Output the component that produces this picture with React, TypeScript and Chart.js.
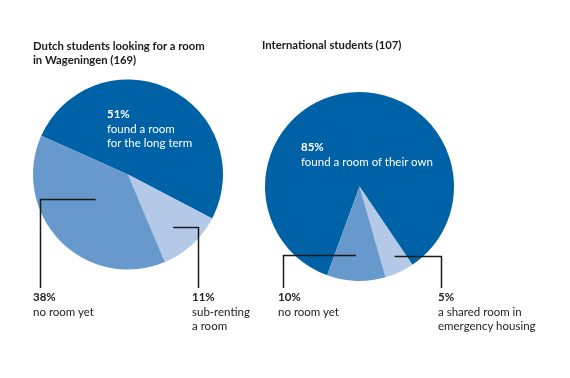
import React, { useEffect, useRef } from "react";
import { Chart, registerables } from "chart.js";

Chart.register(...registerables);

// ---- data ----
const dutchTitle = ["Dutch students looking for a room", "in Wageningen (169)"];
const dutchCategories = ["found a room for the long term", "sub-renting a room", "no room yet"];
const dutchValues = [51, 11, 38];

const intlTitle = ["International students (107)"];
const intlCategories = ["found a room of their own", "a shared room in emergency housing", "no room yet"];
const intlValues = [85, 5, 10];

const sliceColors = ["#0062a6", "#b3c9e7", "#6799cc"];

const FONT = "Lato, 'Open Sans', sans-serif";

const leaderPlugin = {
  id: "leaders",
  afterDatasetsDraw(chart: any, _args: any, opts: any) {
    const meta = chart.getDatasetMeta(0);
    const ctx = chart.ctx;
    ctx.save();
    ctx.strokeStyle = opts.color;
    ctx.lineWidth = opts.width;
    ctx.lineCap = "butt";
    for (const l of opts.items || []) {
      const arc = meta.data[l.index];
      if (!arc) continue;
      const p = arc.getProps(["x", "y", "startAngle", "endAngle", "outerRadius"], true);
      const mid = (p.startAngle + p.endAngle) / 2 + (l.angleOffset * Math.PI) / 180;
      const r = p.outerRadius * l.frac;
      const sx = p.x + Math.cos(mid) * r;
      const sy = Math.round(p.y + Math.sin(mid) * r) + 0.5;
      const vx = Math.round(l.x - opts.offsetX) + 0.5;
      ctx.beginPath();
      ctx.moveTo(sx, sy);
      ctx.lineTo(vx, sy);
      ctx.lineTo(vx, l.bottom);
      ctx.stroke();
    }
    ctx.restore();
  },
};

type PieProps = {
  labels: string[];
  values: number[];
  rotation: number;
  left: number;
  width: number;
  height: number;
  padding: { left: number; right: number; top: number; bottom: number };
  leaders: any[];
};

function Pie({ labels, values, rotation, left, width, height, padding, leaders }: PieProps) {
  const ref = useRef<HTMLCanvasElement>(null);
  useEffect(() => {
    if (!ref.current) return;
    const chart = new Chart(ref.current, {
      type: "pie",
      data: {
        labels,
        datasets: [
          {
            data: values,
            backgroundColor: sliceColors,
            borderWidth: 0,
          },
        ],
      },
      options: {
        animation: false,
        responsive: false,
        devicePixelRatio: 1,
        rotation,
        layout: { padding },
        plugins: {
          legend: { display: false },
          tooltip: { enabled: false },
          leaders: { items: leaders, color: "#1a1a1a", width: 1.5, offsetX: left },
        } as any,
      },
      plugins: [leaderPlugin as any],
    });
    return () => chart.destroy();
  }, []);
  return (
    <canvas
      ref={ref}
      width={width}
      height={height}
      style={{ position: "absolute", left, top: 0, width, height }}
    />
  );
}

const textBase: React.CSSProperties = {
  position: "absolute",
  fontFamily: FONT,
  fontSize: 11.5,
  lineHeight: "14.5px",
  whiteSpace: "nowrap",
  color: "#222222",
};

function Label({ x, y, pct, lines, color }: { x: number; y: number; pct: string; lines: string[]; color?: string }) {
  return (
    <div style={{ ...textBase, left: x, top: y, color: color || "#222222" }}>
      <div style={{ fontWeight: 700 }}>{pct}</div>
      {lines.map((l, i) => (
        <div key={i}>{l}</div>
      ))}
    </div>
  );
}

export default function App() {
  return (
    <div style={{ position: "absolute", left: 0, top: 0, width: 570, height: 378, background: "#fff", overflow: "hidden" }}>
      <Pie
        labels={dutchCategories}
        values={dutchValues}
        rotation={-66}
        left={0}
        width={250}
        height={378}
        padding={{ left: 33, right: 27, top: 79, bottom: 108 }}
        leaders={[
          { index: 2, angleOffset: 6.9, frac: 0.43, x: 40, bottom: 288 },
          { index: 1, angleOffset: 2, frac: 0.73, x: 198, bottom: 288 },
        ]}
      />
      <Pie
        labels={intlCategories}
        values={intlValues}
        rotation={200}
        left={250}
        width={320}
        height={378}
        padding={{ left: 15, right: 116, top: 92, bottom: 97 }}
        leaders={[
          { index: 2, angleOffset: 1, frac: 0.73, x: 283, bottom: 288 },
          { index: 1, angleOffset: -2, frac: 0.82, x: 441, bottom: 288 },
        ]}
      />
      <div style={{ ...textBase, fontSize: 11.3, left: 33, top: 38.5, fontWeight: 700, color: "#1a1a1a" }}>
        {dutchTitle.map((t, i) => (
          <div key={i}>{t}</div>
        ))}
      </div>
      <div style={{ ...textBase, fontSize: 11.3, left: 262, top: 38, fontWeight: 700, color: "#1a1a1a" }}>
        {intlTitle.map((t, i) => (
          <div key={i}>{t}</div>
        ))}
      </div>
      <Label x={107} y={107} pct={`${dutchValues[0]}%`} lines={["found a room", "for the long term"]} color="#ffffff" />
      <Label x={33} y={290} pct={`${dutchValues[2]}%`} lines={["no room yet"]} />
      <Label x={192} y={290} pct={`${dutchValues[1]}%`} lines={["sub-renting", "a room"]} />
      <Label x={301} y={140} pct={`${intlValues[0]}%`} lines={["found a room of their own"]} color="#ffffff" />
      <Label x={278} y={290} pct={`${intlValues[2]}%`} lines={["no room yet"]} />
      <Label x={438} y={290} pct={`${intlValues[1]}%`} lines={["a shared room in", "emergency housing"]} />
    </div>
  );
}
